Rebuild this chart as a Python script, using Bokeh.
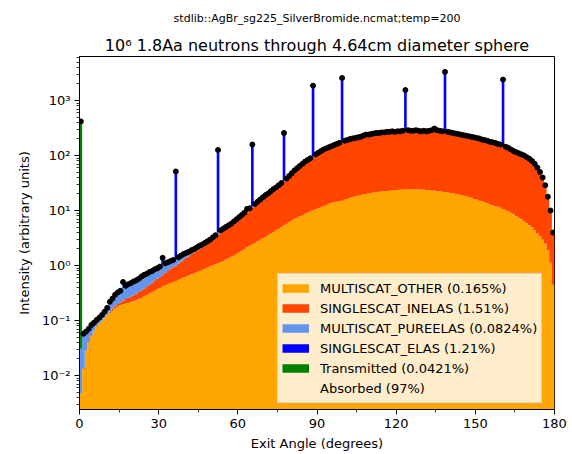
import numpy as np
from bokeh.plotting import figure
from bokeh.models import (Range1d, FixedTicker, CustomJSTickFormatter, Legend, LegendItem, Title)
from bokeh.embed import file_html
from bokeh.resources import INLINE

# ---------------- data ----------------
angle_min, angle_max, n_bins = 0, 180, 180

subtitle = "stdlib::AgBr_sg225_SilverBromide.ncmat;temp=200"
title = "10\u2076 1.8Aa neutrons through 4.64cm diameter sphere"

legend_labels = ["MULTISCAT_OTHER (0.165%)", "SINGLESCAT_INELAS (1.51%)",
                 "MULTISCAT_PUREELAS (0.0824%)", "SINGLESCAT_ELAS (1.21%)",
                 "Transmitted (0.0421%)", "Absorbed (97%)"]

multiscat_other = [
    0.0047, 0.0132, 0.0282, 0.0398, 0.0525, 0.0646, 0.0759, 0.0871, 0.0977, 0.110,
    0.123, 0.138, 0.151, 0.166, 0.178, 0.191, 0.200, 0.204, 0.209, 0.219,
    0.224, 0.234, 0.245, 0.257, 0.275, 0.288, 0.309, 0.331, 0.347, 0.372,
    0.389, 0.417, 0.437, 0.457, 0.479, 0.501, 0.525, 0.550, 0.575, 0.603,
    0.631, 0.661, 0.692, 0.724, 0.759, 0.794, 0.832, 0.871, 0.912, 0.955,
    1.00, 1.05, 1.10, 1.15, 1.20, 1.29, 1.35, 1.45, 1.51, 1.62,
    1.74, 1.86, 2.00, 2.14, 2.29, 2.40, 2.57, 2.75, 2.95, 3.16,
    3.31, 3.55, 3.80, 4.07, 4.37, 4.68, 5.01, 5.37, 5.75, 6.17,
    6.61, 7.08, 7.41, 7.94, 8.32, 8.71, 9.12, 9.55, 10.0, 10.5,
    11.0, 11.5, 12.0, 12.6, 13.2, 13.8, 14.1, 14.5, 14.8, 15.1,
    15.8, 16.2, 17.0, 17.4, 18.2, 18.6, 19.1, 19.5, 20.0, 20.4,
    20.9, 21.4, 21.2, 21.9, 22.1, 22.4, 22.6, 22.9, 23.1, 23.4,
    23.7, 24.0, 23.8, 24.5, 24.0, 24.5, 24.3, 24.0, 24.4, 23.9,
    24.1, 23.4, 23.5, 22.9, 23.0, 22.4, 22.3, 21.9, 21.4, 21.5,
    20.9, 20.4, 20.0, 19.5, 19.1, 18.6, 18.2, 17.4, 17.0, 16.2,
    15.8, 15.1, 14.8, 14.1, 13.5, 12.9, 12.6, 12.0, 11.7, 11.2,
    10.7, 10.2, 9.77, 9.12, 8.51, 7.94, 7.41, 6.92, 6.31, 5.89,
    5.37, 4.90, 4.37, 3.80, 3.39, 2.95, 2.51, 1.91, 1.12, 0.447,
]

singlescat_inelas = [
    0.0, 0.0003, 0.0006, 0.0009, 0.0012, 0.0015, 0.0018, 0.0020, 0.0023, 0.0040,
    0.0060, 0.010, 0.015, 0.016, 0.022, 0.023, 0.029, 0.041, 0.048, 0.056,
    0.064, 0.075, 0.086, 0.098, 0.105, 0.119, 0.138, 0.159, 0.178, 0.203,
    0.228, 0.259, 0.304, 0.337, 0.392, 0.432, 0.475, 0.522, 0.600, 0.685,
    0.749, 0.818, 0.930, 1.014, 1.103, 1.201, 1.306, 1.420, 1.600, 1.737,
    1.951, 2.19, 2.53, 2.83, 3.07, 3.39, 3.66, 3.92, 4.38, 4.84,
    5.34, 5.90, 6.51, 7.19, 7.94, 8.82, 10.02, 11.05, 12.19, 13.44,
    14.89, 15.95, 17.58, 19.37, 20.75, 22.86, 25.19, 27.74, 30.56, 34.57,
    39.10, 44.21, 48.82, 53.72, 59.29, 65.42, 70.31, 75.56, 83.33, 89.5,
    96.2, 103.3, 111.0, 116.2, 121.7, 127.5, 133.8, 140.4, 147.4, 158.7,
    162.0, 165.8, 173.5, 177.6, 181.3, 185.6, 189.8, 199.3, 209.1, 208.7,
    213.5, 218.5, 224.3, 223.6, 229.1, 228.8, 234.4, 234.1, 239.9, 233.6,
    239.3, 239.0, 245.4, 244.7, 251.4, 244.7, 244.9, 251.4, 244.8, 239.1,
    245.1, 239.6, 245.7, 252.5, 272.1, 253.0, 246.9, 241.1, 241.6, 235.5,
    230.3, 225.1, 219.9, 214.9, 210.0, 205.3, 200.6, 196.4, 191.9, 188.0,
    183.7, 179.9, 171.4, 167.9, 164.3, 156.9, 153.4, 150.2, 143.2, 140.2,
    133.8, 127.8, 122.0, 113.9, 106.3, 101.7, 97.3, 93.1, 89.2, 83.2,
    77.8, 71.0, 63.2, 53.7, 44.5, 35.05, 25.0, 15.1, 8.43, 3.35,
]

multiscat_pureelas = [
    0.026, 0.044, 0.034, 0.030, 0.0295, 0.0251, 0.0246, 0.0231, 0.0259, 0.0305,
    0.041, 0.071, 0.085, 0.113, 0.124, 0.133, 0.272, 0.182, 0.200, 0.204,
    0.225, 0.228, 0.244, 0.276, 0.296, 0.301, 0.312, 0.304, 0.326, 0.316,
    0.338, 0.371, 0.355, 0.354, 0.331, 0.326, 0.349, 0.341, 0.339, 0.334,
    0.318, 0.299, 0.283, 0.257, 0.276, 0.296, 0.261, 0.279, 0.242, 0.259,
    0.285, 0.312, 0.350, 0.384, 0.411, 0.335, 0.358, 0.384, 0.422, 0.461,
    0.507, 0.556, 0.609, 1.39, 0.73, 0.80, 0.59, 0.65, 0.71, 0.78,
    0.85, 0.92, 1.01, 1.11, 1.18, 1.30, 1.42, 1.56, 1.71, 1.92,
    2.15, 2.41, 2.65, 2.91, 3.18, 3.49, 3.75, 4.02, 4.39, 4.7,
    5.0, 5.4, 5.8, 6.1, 6.4, 6.6, 7.0, 7.3, 7.6, 8.2,
    8.4, 8.5, 9.0, 9.2, 9.4, 9.6, 9.9, 10.3, 10.8, 10.8,
    11.1, 11.3, 11.5, 11.5, 11.8, 11.8, 12.2, 12.2, 12.4, 12.2,
    12.4, 12.4, 12.6, 12.6, 13.0, 12.6, 12.6, 13.0, 12.6, 12.4,
    12.6, 12.4, 12.6, 13.0, 13.9, 13.0, 12.6, 12.4, 12.4, 12.2,
    11.8, 11.5, 11.3, 11.1, 10.8, 10.5, 10.3, 10.1, 9.9, 9.6,
    9.4, 9.2, 8.8, 8.5, 8.4, 8.0, 7.8, 7.6, 7.3, 7.1,
    6.9, 6.5, 6.2, 5.8, 5.4, 5.2, 4.9, 4.7, 4.5, 4.2,
    3.9, 3.5, 3.2, 2.8, 2.2, 1.8, 1.3, 0.8, 0.45, 0.18,
]

# SINGLESCAT_ELAS: Bragg peaks (bin index = lower edge in degrees)
singlescat_elas_bins = [31, 36, 52, 65, 77, 88, 99, 123, 138, 160]
singlescat_elas_values = [0.333, 49.9, 121.9, 146.5, 222.3, 1764.0, 2388.0, 1267.0, 3036.0, 2248.0]

transmitted_bins = [0]
transmitted_values = [417.0]

colors = ["#FFA500", "#FF4500", "#6495ED", "#0000FF", "#008000", "#FFFFFF"]

# ---------------- stacking ----------------
edges = np.linspace(angle_min, angle_max, n_bins + 1)
centers = 0.5 * (edges[:-1] + edges[1:])
other = np.array(multiscat_other)
inel = np.array(singlescat_inelas)
pure = np.array(multiscat_pureelas)
elas = np.zeros(n_bins)
elas[singlescat_elas_bins] = singlescat_elas_values
trans = np.zeros(n_bins)
trans[transmitted_bins] = transmitted_values

floor = 1e-3
c0 = np.full(n_bins, floor)
c1 = other
c2 = c1 + inel
c3 = c2 + pure
c4 = c3 + elas
c5 = c4 + trans


def ext(a):
    return np.append(a, a[-1])


FONT = "DejaVu Sans"

p = figure(width=572, height=454, x_range=Range1d(0, 180), y_range=Range1d(0.00241, 6310),
           y_axis_type="log", output_backend="svg", toolbar_location=None,
           min_border_left=79, min_border_right=18, min_border_top=56, min_border_bottom=45,
           background_fill_color="white", border_fill_color="white")
p.title.visible = False
p.xgrid.visible = False
p.ygrid.visible = False
p.outline_line_color = "black"
p.outline_line_alpha = 1.0
p.outline_line_width = 1

p.varea_step(x=edges, y1=ext(c0), y2=ext(c1), step_mode="after", fill_color=colors[0])
p.varea_step(x=edges, y1=ext(c1), y2=ext(c2), step_mode="after", fill_color=colors[1])
p.varea_step(x=edges, y1=ext(c2), y2=ext(c3), step_mode="after", fill_color=colors[2])

eb = np.array(singlescat_elas_bins)
p.quad(left=edges[eb], right=edges[eb + 1], bottom=c3[eb], top=c4[eb],
       fill_color=colors[3], line_color=None)
tb = np.array(transmitted_bins)
p.quad(left=edges[tb], right=edges[tb + 1], bottom=c4[tb], top=c5[tb],
       fill_color=colors[4], line_color=None)

p.scatter(x=centers, y=c5, size=5, fill_color="black", line_color="black")

# legend: invisible one-point lines, drawn thick in the legend as colour patches
items = []
for i, (lab, col) in enumerate(zip(legend_labels, colors)):
    r = p.line(x=centers[:1], y=[np.nan], line_color=col, line_width=8.5,
               line_alpha=0.0 if i == len(legend_labels) - 1 else 1.0)
    items.append(LegendItem(label=lab, renderers=[r]))
legend = Legend(items=items, location=(198, 6), orientation="vertical",
                glyph_width=27, glyph_height=20, label_height=20, label_standoff=11,
                spacing=0, padding=4, margin=0,
                label_text_font=FONT, label_text_font_size="13px", label_text_color="black",
                background_fill_color="white", background_fill_alpha=0.8,
                border_line_color="#cccccc", border_line_alpha=0.8, border_line_width=1)
p.add_layout(legend)

# axes
p.xaxis.ticker = FixedTicker(ticks=[0, 30, 60, 90, 120, 150, 180],
                             minor_ticks=[15, 45, 75, 105, 135, 165])
y_major = [1e-2, 1e-1, 1e0, 1e1, 1e2, 1e3]
y_minor = [k * 10.0 ** e for e in range(-3, 4) for k in range(2, 10)]
p.yaxis.ticker = FixedTicker(ticks=y_major, minor_ticks=y_minor)
p.yaxis.formatter = CustomJSTickFormatter(code="""
const sup = {"-": "\u207b", "0": "\u2070", "1": "\u00b9", "2": "\u00b2", "3": "\u00b3",
             "4": "\u2074", "5": "\u2075", "6": "\u2076", "7": "\u2077", "8": "\u2078", "9": "\u2079"};
const e = Math.round(Math.log10(tick));
return "10" + String(e).split("").map(c => sup[c]).join("");
""")
p.xaxis.axis_label = "Exit Angle (degrees)"
p.yaxis.axis_label = "Intensity (arbitrary units)"
for ax in (p.xaxis[0], p.yaxis[0]):
    ax.major_tick_out = 5
    ax.major_tick_in = 0
    ax.minor_tick_out = 3
    ax.minor_tick_in = 0
    ax.axis_line_color = "black"
    ax.axis_line_width = 1
    ax.major_tick_line_color = "black"
    ax.major_tick_line_width = 1
    ax.minor_tick_line_color = "black"
    ax.minor_tick_line_width = 0.8
    ax.major_label_text_font = FONT
    ax.major_label_text_font_size = "13px"
    ax.major_label_text_color = "black"
    ax.axis_label_text_font = FONT
    ax.axis_label_text_font_size = "13px"
    ax.axis_label_text_font_style = "normal"
    ax.axis_label_text_color = "black"
p.xaxis.major_label_standoff = 4
p.xaxis.axis_label_standoff = 5
p.yaxis.major_label_standoff = 4
p.yaxis.axis_label_standoff = 7

# titles: the first added sits nearest the frame
p.add_layout(Title(text=title, align="center", text_font=FONT, text_font_size="16px",
                   text_font_style="normal", text_color="black", standoff=3), "above")
p.add_layout(Title(text=subtitle, align="center", offset=-7.5, text_font=FONT,
                   text_font_size="11px", text_font_style="normal", text_color="black",
                   standoff=16), "above")

open("out.html", "w").write(file_html(p, INLINE))
